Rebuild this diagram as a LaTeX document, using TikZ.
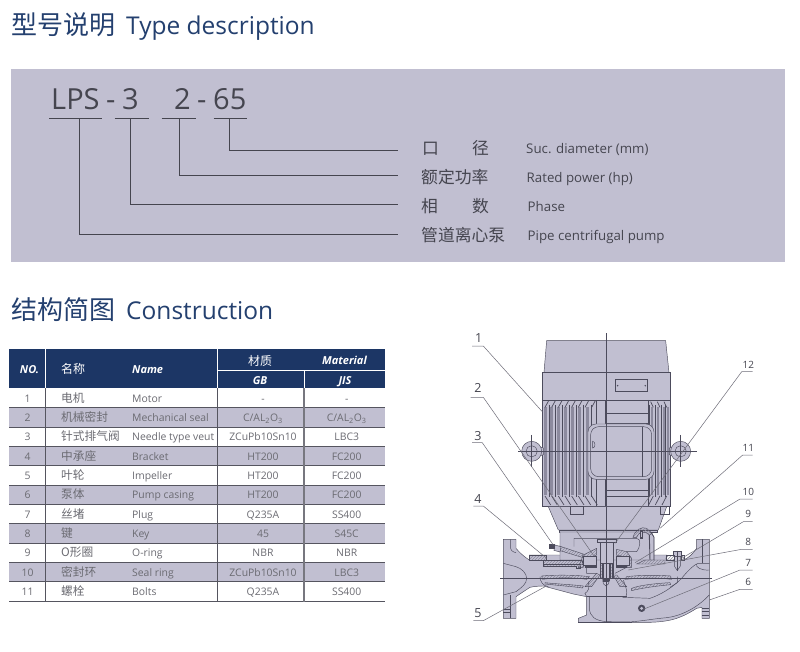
\documentclass[tikz,border=0pt]{standalone}
\usepackage{fontspec}
\setmainfont{Open Sans}
\newfontfamily\cjk{Noto Sans CJK SC}
\usetikzlibrary{patterns}
\definecolor{panelc}{HTML}{C1BFD1}
\definecolor{navy}{HTML}{1C3665}
\definecolor{titlec}{HTML}{24406F}
\definecolor{inkc}{HTML}{45454F}
\definecolor{rowtext}{HTML}{6B6B72}
\definecolor{rowline}{HTML}{55555F}
\definecolor{linec}{HTML}{4C4B5C}
\definecolor{leaderc}{HTML}{6E6D78}
\definecolor{finc}{HTML}{8C8A9E}
\newcommand{\calo}{C/AL\textsubscript{2}O\textsubscript{3}}
\newcommand{\titlecn}[1]{{\cjk\fontsize{26}{30}\selectfont #1}\hspace{11pt}}
\tikzset{
 titletext/.style={anchor=base west,inner sep=0pt,text=titlec,font=\fontsize{24.5}{30}\selectfont},
 codetext/.style={anchor=base west,inner sep=0pt,text=inkc,font=\fontsize{29}{34}\selectfont},
 codeline/.style={draw=inkc,line width=0.9pt},
 labelcn/.style={anchor=base west,inner sep=0pt,text=inkc,font=\cjk\fontsize{16.8}{18}\selectfont},
 labelen/.style={anchor=base west,inner sep=0pt,text=inkc,font=\fontsize{13.3}{18}\selectfont},
 headtext/.style={inner sep=0pt,anchor=base,text=white,font=\bfseries\itshape\fontsize{11}{14}\selectfont},
 headcn/.style={inner sep=0pt,anchor=base,text=white,font=\cjk\fontsize{12}{14}\selectfont},
 cellcn/.style={inner sep=0pt,anchor=base west,text=rowtext,font=\cjk\fontsize{11.7}{14}\selectfont},
 cellen/.style={inner sep=0pt,anchor=base west,text=rowtext,font=\fontsize{10.4}{14}\selectfont},
 cellmid/.style={inner sep=0pt,anchor=base,text=rowtext,font=\fontsize{10.4}{14}\selectfont},
 part/.style={draw=linec,line width=0.45pt},
 solid part/.style={draw=linec,line width=0.45pt,fill=panelc},
 hatch/.style={draw=linec,line width=0.4pt,pattern=north east lines,pattern color=linec!45!panelc},
 leader/.style={draw=leaderc,line width=0.5pt},
 nolabel/.style={inner sep=0pt,text=inkc,font=\fontsize{10}{12}\selectfont},
 nolabelbig/.style={inner sep=0pt,text=inkc,font=\fontsize{12.5}{14}\selectfont},
}
\begin{document}
\begin{tikzpicture}[x=1pt,y=-1pt]
\useasboundingbox[fill=white] (0,0) rectangle (800,651);
% ---- titles
\node[titletext] (title1) at (11,34) {\titlecn{型号说明}Type description};
\node[titletext] (title2) at (11,319) {\titlecn{结构简图}Construction};
% ---- type panel
\fill[panelc] (10.5,68.5) rectangle (784.5,262);
\node[codetext] (lps) at (51,109) {LPS};
\node[codetext] (d1) at (106,109) {-};
\node[codetext] (n3) at (122,109) {3};
\node[codetext] (n2) at (174,109) {2};
\node[codetext] (d2) at (197,109) {-};
\node[codetext] (n65) at (213,109) {65};
\coordinate (ua) at (79,118); \coordinate (ub) at (130.3,118);
\coordinate (uc) at (179,118); \coordinate (ud) at (229,118);
\draw[codeline] (49,118) -- (102,118) (114.5,118) -- (149,118) (161.5,118) -- (196,118) (213.5,118) -- (247,118);
\coordinate (ea) at (398,234.3); \coordinate (eb) at (398,204);
\coordinate (ec) at (398,175.7); \coordinate (ed) at (398,150.7);
\draw[codeline] (ua) |- (ea);
\draw[codeline] (ub) |- (eb);
\draw[codeline] (uc) |- (ec);
\draw[codeline] (ud) |- (ed);
\node[labelcn] (l1a) at (422,154) {口};
\node[labelcn] (l1b) at (472,154) {径};
\node[labelcn] (l2) at (421,183) {额定功率};
\node[labelcn] (l3a) at (421,212) {相};
\node[labelcn] (l3b) at (472,212) {数};
\node[labelcn] (l4) at (421,241) {管道离心泵};
\node[labelen] (e1) at (526,153) {Suc. diameter (mm)};
\node[labelen] (e2) at (526.5,182) {Rated power (hp)};
\node[labelen] (e3) at (527.5,211) {Phase};
\node[labelen] (e4) at (527.5,240) {Pipe centrifugal pump};
% ---- table
\fill[navy] (9,349.3) rectangle (384.5,388.3);
\draw[white,line width=0.8pt] (45.5,349.3) -- (45.5,388.3) (217.5,349.3) -- (217.5,388.3)
  (217.5,370) -- (384.5,370) (304,370) -- (304,388.3);
\node[headtext] (hno) at (29.5,373.5) {NO.};
\node[headcn,anchor=base west] (hcn) at (61,373) {名称};
\node[headtext,anchor=base west] (hen) at (132,373.5) {Name};
\node[headcn] (hmat) at (260,365) {材质};
\node[headtext] (hmaten) at (344.5,364) {Material};
\node[headtext] (hgb) at (260,384) {GB};
\node[headtext] (hjis) at (345,384) {JIS};
\foreach \r in {1,3,5,7,9}{
  \fill[panelc] (9,{388.3+19.35*\r}) rectangle (384.5,{388.3+19.35*(\r+1)});
  \draw[rowline,line width=0.8pt] (9,{388.3+19.35*\r}) -- (384.5,{388.3+19.35*\r})
     (9,{388.3+19.35*(\r+1)}) -- (384.5,{388.3+19.35*(\r+1)});
}
\draw[rowline,line width=0.8pt] (9,601.7) -- (384.5,601.7);
\draw[rowline,line width=0.8pt] (45.5,388.3) -- (45.5,601.7) (217.5,388.3) -- (217.5,601.7);
\draw[rowline!80,line width=1.2pt] (304,388.3) -- (304,601.7);
\foreach \i/\c/\e/\g/\j in {
 1/电机/Motor/-/-,
 2/机械密封/Mechanical seal/\calo/\calo,
 3/针式排气阀/Needle type veut/ZCuPb10Sn10/LBC3,
 4/中承座/Bracket/HT200/FC200,
 5/叶轮/Impeller/HT200/FC200,
 6/泵体/Pump casing/HT200/FC200,
 7/丝堵/Plug/Q235A/SS400,
 8/键/Key/45/S45C,
 9/O形圈/O-ring/NBR/NBR,
 10/密封环/Seal ring/ZCuPb10Sn10/LBC3,
 11/螺栓/Bolts/Q235A/SS400}{
  \pgfmathsetmacro{\yy}{388.3+19.35*(\i-0.5)+4.2}
  \node[cellmid] (no\i) at (27.5,\yy) {\i};
  \node[cellcn] (cn\i) at (61,\yy) {\c};
  \node[cellen] (en\i) at (132,\yy) {\e};
  \node[cellmid] (gb\i) at (263,\yy) {\g};
  \node[cellmid] (jis\i) at (346.7,\yy) {\j};
}
% ---- motor (coordinates of 3x crop at 450,320)
\begin{scope}[x=0.3333pt,y=-0.3333pt,shift={(450pt,-320pt)}]
 \path[solid part] (290,62) -- (647,62) -- (657,157) -- (282,157) -- cycle;
 \path[solid part] (277,157) rectangle (661,240);
 \path[part] (496,178) rectangle (592,215);
 \fill[linec] (503,197) circle (2.5) (586,197) circle (2.5);
 \path[solid part] (277,240) rectangle (661,560);
 % fins left
 \foreach \a in {281,301,321,341,362,385,408}{
   \fill[finc] (\a,262) rectangle (\a+9,525);
   \draw[part] (\a+16,255) -- (\a+16,530);
 }
 \foreach \a in {604,622,640,652}{
   \fill[finc] (\a,262) rectangle (\a+6,525);
   \draw[part] (\a-5,255) -- (\a-5,530);
 }
 \foreach \a in {285,305,325,345,365,385,405,425}{
   \draw[part,line width=0.7pt] (\a,262) -- (\a+11,242);
   \draw[part,line width=0.7pt] (\a,528) -- (\a+17,555);
 }
 \foreach \a in {610,630,650}{
   \draw[part,line width=0.7pt] (\a-8,245) -- (\a,262);
   \draw[part,line width=0.7pt] (\a,528) -- (\a-14,555);
 }
 \draw[part] (277,240) -- (661,240) (440,240) -- (440,560) (465,240) -- (465,560) (595,240) -- (595,560);
 \foreach \h in {280,310,510,530}{\draw[part] (465,\h) -- (595,\h);}
 \path[solid part,rounded corners=8] (414,312) rectangle (612,478);
 \path[part,rounded corners=8] (422,320) rectangle (605,470);
 \draw[part] (578,320) -- (578,470);
 \path[solid part] (428,384) arc (90:-90:7 and 10) -- cycle;
 % eyes
 \path[solid part] (262,378) -- (280,384) -- (280,404) -- (262,410) -- cycle;
 \path[solid part] (675,378) -- (658,384) -- (658,404) -- (675,410) -- cycle;
 \path[solid part] (245,394) circle (30);
 \path[part] (245,394) circle (17);
 \path[solid part] (692,394) circle (30);
 \path[part] (692,394) circle (17);
 \draw[part] (205,394) -- (740,394) (245,345) -- (245,442) (692,345) -- (692,442);
 \draw[part] (470,40) -- (470,560);
\end{scope}
% ---- pump (coordinates of 3x crop at 450,480)
\begin{scope}[x=0.3333pt,y=-0.3333pt,shift={(450pt,-480pt)}]
 % body
 \path[solid part] (160,178) -- (198,178) -- (198,205) .. controls (215,225) and (230,235) .. (238,240)
   -- (238,225) -- (650,225) -- (650,240) -- (700,240) .. controls (715,235) and (730,220) .. (740,205)
   -- (740,178) -- (778,178) -- (778,415) -- (756,415) -- (756,382) -- (740,385)
   .. controls (700,410) and (670,425) .. (600,427) -- (385,428) -- (385,415) -- (410,405) -- (410,350)
   -- (370,342) -- (280,318) .. controls (262,318) and (250,320) .. (240,322)
   .. controls (220,335) and (205,345) .. (198,350) -- (198,415) -- (160,415) -- cycle;
 \draw[part] (182,178) -- (182,205) .. controls (182,215) and (198,218) .. (198,218);
 \draw[part] (160,250) -- (198,260) .. controls (215,265) and (230,280) .. (230,295)
    .. controls (230,312) and (215,322) .. (198,335) -- (160,345);
 \draw[part] (182,345) -- (182,415) (160,388) -- (182,388) (160,398) -- (182,398);
 \draw[part] (758,178) -- (758,250) (756,385) -- (778,385) (756,395) -- (778,395) (756,405) -- (778,405);
 \draw[part] (778,250) -- (745,250) .. controls (735,252) and (715,270) .. (695,295)
   .. controls (665,325) and (630,345) .. (600,355) -- (518,352);
 \draw[part] (740,252) .. controls (735,262) and (755,272) .. (778,270);
 \draw[part] (778,345) .. controls (750,375) and (700,410) .. (640,414) .. controls (600,418) and (570,424) .. (545,425);
 \draw[part] (418,350) -- (418,385) .. controls (420,410) and (435,422) .. (470,425) -- (545,426);
 % bracket under motor
 \path[solid part] (295,80) -- (650,80) -- (625,150) -- (325,150) -- cycle;
 \path[part] (362,80) rectangle (400,103);
 \path[part] (630,80) rectangle (658,103);
 \path[solid part] (327,150) rectangle (622,156);
 \path[solid part] (330,156) -- (600,156) -- (612,170) -- (612,240) -- (330,240) -- cycle;
 \draw[part] (372,175) -- (372,200) (372,175) -- (560,175) .. controls (575,175) and (570,205) .. (560,215) -- (530,215);
 % wall
 \draw[part,line width=0.9pt] (598,165) -- (600,240);
 \draw[part,line width=0.7pt] (606,160) -- (612,172) -- (612,240);
 % 11 cap
 \path[hatch] (549,172) .. controls (555,150) and (575,138) .. (590,145) -- (606,160) -- (598,165)
    .. controls (585,150) and (565,155) .. (560,172) -- cycle;
 \path[fill=linec] (570,150) rectangle (580,178);
 \path[fill=panelc] (573,155) rectangle (577,172);
 % casing hatched strips
 \path[hatch] (238,225) rectangle (290,240);
 \path[hatch] (280,240) rectangle (398,254);
 \path[hatch] (280,254) -- (390,254) -- (390,266) -- (380,266) -- (380,258) -- (280,258) -- cycle;
 \path[hatch] (650,225) -- (650,240) -- (585,240) -- (560,252) -- (645,252) -- (645,240);
 \path[hatch] (500,208) -- (530,215) -- (545,235) -- (545,262) -- (530,262) -- (530,240) -- (515,228) -- (500,226) -- cycle;
 \path[hatch] (440,205) -- (400,225) -- (385,262) -- (400,262) -- (410,235) -- (440,225) -- cycle;
 % needle valve
 \path[hatch] (328,198) -- (400,222) -- (396,232) -- (324,210) -- cycle;
 \path[solid part] (315,195) -- (333,200) -- (330,216) -- (312,211) -- cycle;
 \path[fill=linec] (297,193) rectangle (314,207);
 % bearing
 \path[solid part] (400,228) rectangle (440,255);
 \path[solid part] (500,228) rectangle (538,255);
 \path[hatch] (405,258) rectangle (440,262);
 \path[hatch] (500,258) rectangle (530,262);
 \draw[part] (410,262) -- (410,280) -- (440,280) (495,280) -- (530,262);
 % shaft
 \path[solid part] (442,178) rectangle (498,186);
 \path[solid part] (450,186) rectangle (490,295);
 \path[hatch] (452,250) rectangle (458,295);
 \path[hatch] (482,250) rectangle (488,295);
 \path[solid part] (460,250) rectangle (478,300);
 \path[hatch] (405,320) -- (440,280) -- (450,285) -- (425,320) -- cycle;
 \path[hatch] (530,320) -- (500,285) -- (490,285) -- (510,320) -- cycle;
 % impeller
 \path[hatch] (275,288) .. controls (320,284) and (380,285) .. (418,290) -- (410,298) .. controls (370,292) and (320,292) .. (278,298) -- cycle;
 \path[hatch] (530,290) .. controls (570,285) and (620,285) .. (662,288) -- (664,298) .. controls (620,292) and (570,294) .. (525,298) -- cycle;
 \path[hatch] (285,308) .. controls (320,312) and (370,314) .. (400,318) -- (398,324) .. controls (370,320) and (320,316) .. (285,312) -- cycle;
 \path[hatch] (545,325) .. controls (570,315) and (620,310) .. (660,308) -- (662,314) .. controls (620,318) and (570,325) .. (545,332) -- cycle;
 \draw[part] (270,290) .. controls (270,305) and (280,318) .. (295,320);
 \draw[part] (682,290) -- (682,308) -- (660,322);
 \draw[part] (410,350) -- (405,340) .. controls (415,335) and (420,322) .. (415,305);
 \draw[part] (528,350) .. controls (535,335) and (525,315) .. (520,300);
 \draw[part] (410,350) -- (530,350);
 % impeller nut
 \path[solid part] (458,296) .. controls (458,325) and (478,325) .. (478,296);
 \path[fill=linec] (460,296) rectangle (476,306);
 % bolt right
 \path[solid part] (670,215) rectangle (694,230);
 \path[solid part] (673,230) -- (691,230) -- (691,258) -- (682,272) -- (673,258) -- cycle;
 \draw[part] (682,212) -- (682,272);
 \path[hatch] (650,226) rectangle (672,240);
 \path[hatch] (694,226) -- (704,226) -- (704,240) -- (694,240) -- cycle;
 % plug
 \path[fill=linec] (575,385) circle (11);
 \path[fill=panelc] (575,385) circle (5);
 % center lines
 \draw[part] (150,295) -- (785,295);
 \draw[part] (470,80) -- (470,430);
 \draw[part] (385,428) -- (545,428);
\end{scope}
% ---- leaders
\node[nolabelbig] (p1) at (478.7,338) {1};
\node[nolabelbig] (p2) at (478,388.3) {2};
\node[nolabelbig] (p3) at (478,436) {3};
\node[nolabelbig] (p4) at (478,499.3) {4};
\node[nolabelbig] (p5) at (478,613.3) {5};
\node[nolabel] (p6) at (748.3,582.3) {6};
\node[nolabel] (p7) at (748.3,563.3) {7};
\node[nolabel] (p8) at (748.3,542) {8};
\node[nolabel] (p9) at (748.3,514.3) {9};
\node[nolabel] (p10) at (748.3,491.7) {10};
\node[nolabel] (p11) at (748.3,448.3) {11};
\node[nolabel] (p12) at (748.3,365) {12};
\coordinate (t1) at (542.3,411.7); \coordinate (t2) at (593.3,555);
\coordinate (t3) at (553.3,545); \coordinate (t4) at (546.7,558.3);
\coordinate (t5) at (545,586.7); \coordinate (t6) at (709.3,600);
\coordinate (t7) at (643.3,609.3); \coordinate (t8) at (628.3,570);
\coordinate (t9) at (681.7,558.3); \coordinate (t10) at (635,562.7);
\coordinate (t11) at (660,528.3); \coordinate (t12) at (615,543.3);
\draw[leader] (472,346) -- (483.3,346) -- (t1);
\draw[leader] (470.7,397.3) -- (483.3,397.3) -- (t2);
\draw[leader] (472,442.7) -- (482.3,442.7) -- (t3);
\draw[leader] (473.3,506) -- (483.3,506) -- (t4);
\draw[leader] (473.3,620.7) -- (483.3,620.7) -- (t5);
\draw[leader] (752.7,589.3) -- (740,589.3) -- (t6);
\draw[leader] (752.7,570) -- (740,570) -- (t7);
\draw[leader] (752.7,549.3) -- (741.7,549.3) -- (t8);
\draw[leader] (752.7,521.7) -- (743.3,521.7) -- (t9);
\draw[leader] (752.7,499) -- (740,499) -- (t10);
\draw[leader] (752.7,455) -- (742.7,455) -- (t11);
\draw[leader] (752.7,371.7) -- (741.7,371.7) -- (t12);
\end{tikzpicture}
\end{document}
